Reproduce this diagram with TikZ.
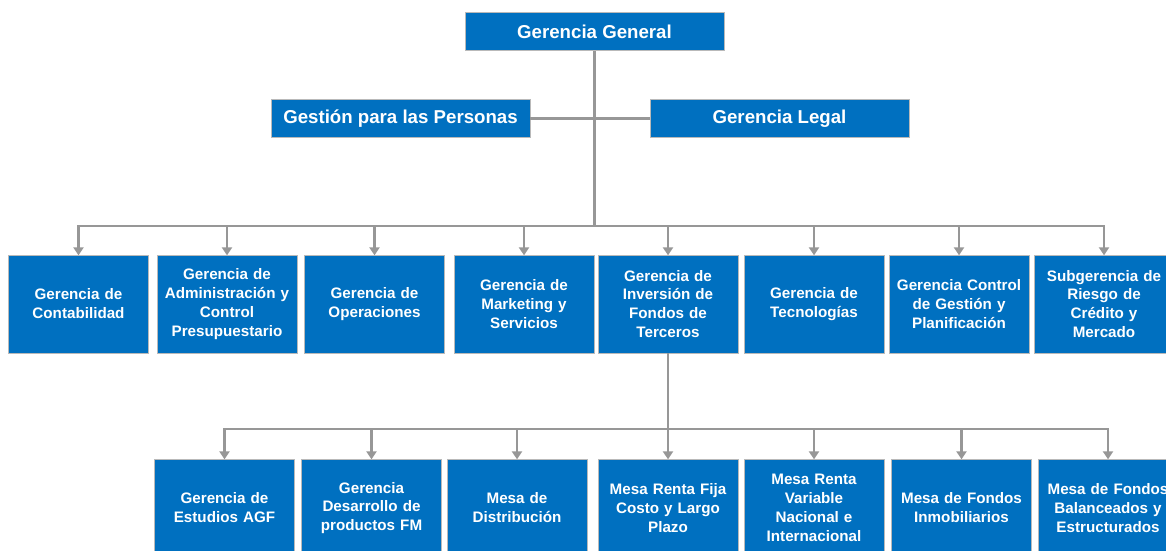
\documentclass[tikz,border=0pt]{standalone}
\usepackage{fontspec}
\setmainfont{Liberation Sans}
\usetikzlibrary{arrows.meta}
\definecolor{boxblue}{HTML}{0070C0}
\definecolor{linegray}{HTML}{979797}
\begin{document}
\begin{tikzpicture}[x=0.75pt,y=-0.75pt,
  unit/.style={fill=boxblue, draw=gray!55, line width=0.5pt, text=white,
    font=\bfseries\fontsize{11.4}{14.2}\selectfont, align=center,
    minimum width=105pt, minimum height=73.5pt, inner sep=1pt, text width=100pt},
  topbox/.style={fill=boxblue, draw=gray!55, line width=0.5pt, text=white,
    font=\bfseries\fontsize{14}{17}\selectfont, align=center,
    minimum width=194pt, minimum height=28.8pt, inner sep=1pt},
  conn/.style={draw=linegray, line width=1.6pt},
  arr/.style={conn, -{Triangle[width=7.5pt,length=6pt]}, shorten >=-0.5pt}]
\useasboundingbox (0,0) rectangle (1166,550);
\clip (0,0) rectangle (1166,550);
% top level
\node[topbox] (gg) at (594.5,31.5) {Gerencia General};
\node[topbox] (gp) at (400.5,118.5) {Gestión para las Personas};
\node[topbox] (gl) at (779.5,118.5) {Gerencia Legal};
% middle row
\node[unit] (m1) at (78.5,304) {Gerencia de\\Contabilidad};
\node[unit] (m2) at (227,304) {Gerencia de\\Administración y\\Control\\Presupuestario};
\node[unit] (m3) at (374.5,304) {Gerencia de\\Operaciones};
\node[unit] (m4) at (524,304) {Gerencia de\\Marketing y\\Servicios};
\node[unit] (m5) at (668,304) {Gerencia de\\Inversión de\\Fondos de\\Terceros};
\node[unit] (m6) at (814,304) {Gerencia de\\Tecnologías};
\node[unit] (m7) at (959,304) {Gerencia Control\\de Gestión y\\Planificación};
\node[unit] (m8) at (1104,304) {Subgerencia de\\Riesgo de\\Crédito y\\Mercado};
% bottom row
\node[unit] (b1) at (224.5,508) {Gerencia de\\Estudios AGF};
\node[unit] (b2) at (371.5,508) {Gerencia\\Desarrollo de\\productos FM};
\node[unit] (b3) at (517,508) {Mesa de\\Distribución};
\node[unit] (b4) at (668,508) {Mesa Renta Fija\\Costo y Largo\\Plazo};
\node[unit] (b5) at (814,508) {Mesa Renta\\Variable\\Nacional e\\Internacional};
\node[unit] (b6) at (961.5,508) {Mesa de Fondos\\Inmobiliarios};
\node[unit] (b7) at (1108,508) {Mesa de Fondos\\Balanceados y\\Estructurados};
% bus coordinates
\coordinate (bus1) at (gg.south |- 0,226);
\coordinate (bus2) at (m5.south |- 0,429);
% connectors top
\draw[conn] (gg.south) -- (bus1);
\draw[conn] (gp.east) -- (gl.west);
% middle bus
\foreach \n in {m1,m2,m3,m4,m5,m6,m7,m8}
  \draw[arr] (bus1) -| (\n.north);
% bottom bus
\draw[conn] (m5.south) -- (bus2);
\foreach \n in {b1,b2,b3,b4,b5,b6,b7}
  \draw[arr] (bus2) -| (\n.north);
\end{tikzpicture}
\end{document}
